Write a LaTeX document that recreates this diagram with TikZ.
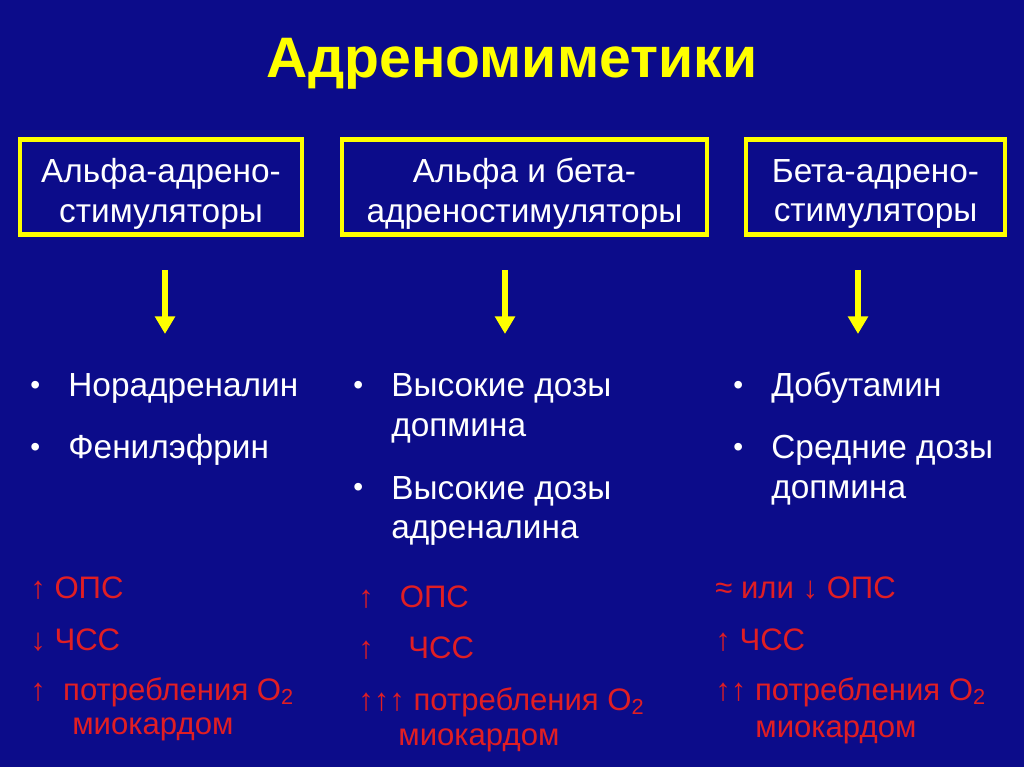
\documentclass[tikz,border=0pt]{standalone}
\usepackage{fontspec}
\setmainfont{Liberation Sans}
\usetikzlibrary{arrows.meta}
\definecolor{bgblue}{RGB}{12,12,138}
\definecolor{ttlyellow}{RGB}{255,255,0}
\definecolor{effred}{RGB}{225,30,35}
\tikzset{
  grpbox/.style={draw=ttlyellow,line width=2.5pt,minimum height=95*0.02cm,inner sep=0pt,
                 text=white,align=center,font=\fontsize{19}{22.7}\selectfont},
  item/.style={anchor=west,text=white,align=left,font=\fontsize{19}{22.7}\selectfont,inner sep=0pt},
  bul/.style={anchor=west,text=white,font=\fontsize{16}{18}\selectfont,inner sep=0pt},
  eff/.style={anchor=west,text=effred,font=\fontsize{17.7}{20}\selectfont,inner sep=0pt},
  down/.style={draw=ttlyellow,line width=3pt,-{Triangle[length=10pt,width=11pt]}}
}
\begin{document}
\begin{tikzpicture}[x=0.02cm,y=-0.02cm]
  \fill[bgblue] (0,0) rectangle (1024,767);
  \useasboundingbox (0,0) rectangle (1024,767);
  \node[text=ttlyellow,font=\fontsize{32.5}{38}\selectfont\bfseries] (title) at (512,64) {Адреномиметики};
  % boxes
  \node[grpbox,minimum width=282*0.02cm] (alpha) at (161,187) {};
  \node[grpbox,minimum width=365*0.02cm] (both) at (524.5,187) {};
  \node[grpbox,minimum width=259*0.02cm] (beta) at (875.5,187) {};
  \node[grpbox,draw=none] (alphat) at (161,194) {Альфа-адрено-\\стимуляторы};
  \node[grpbox,draw=none] (botht) at (524.5,194) {Альфа и бета-\\адреностимуляторы};
  \node[grpbox,draw=none] (betat) at (875.5,194) {Бета-адрено-\\стимуляторы};
  % arrows
  \coordinate (a1) at (165,270); \coordinate (a2) at (165,334);
  \coordinate (b1) at (505,270); \coordinate (b2) at (505,334);
  \coordinate (c1) at (858,270); \coordinate (c2) at (858,334);
  \draw[down] (a1) -- (a2);
  \draw[down] (b1) -- (b2);
  \draw[down] (c1) -- (c2);
  % drugs
  \node[bul] (l1b) at (30,388) {•};
  \node[item] (l1) at (68,388) {Норадреналин};
  \node[bul] (l2b) at (30,450) {•};
  \node[item] (l2) at (68,450) {Фенилэфрин};
  \node[bul] (m1b) at (353,388) {•};
  \node[item] (m1) at (391,408) {Высокие дозы\\допмина};
  \node[bul] (m2b) at (353,490) {•};
  \node[item] (m2) at (391,511) {Высокие дозы\\адреналина};
  \node[bul] (r1b) at (733,388) {•};
  \node[item] (r1) at (771,388) {Добутамин};
  \node[bul] (r2b) at (733,450) {•};
  \node[item] (r2) at (771,470) {Средние дозы\\допмина};
  % effects
  \node[eff] (le1) at (30,588) {↑ ОПС};
  \node[eff] (le2) at (30,640) {↓ ЧСС};
  \node[eff] (le3) at (30,692) {↑\ \ потребления O\textsubscript{2}};
  \node[eff] (le4) at (72,729) {миокардом};
  \node[eff] (me1) at (358,597) {↑\ \ \ ОПС};
  \node[eff] (me2) at (358,648) {↑\ \ \ \ ЧСС};
  \node[eff] (me3) at (358,702) {↑↑↑\ потребления O\textsubscript{2}};
  \node[eff] (me4) at (398,740) {миокардом};
  \node[eff] (re1) at (715,588) {≈ или ↓ ОПС};
  \node[eff] (re2) at (715,640) {↑ ЧСС};
  \node[eff] (re3) at (715,692) {↑↑\ потребления O\textsubscript{2}};
  \node[eff] (re4) at (755,732) {миокардом};
\end{tikzpicture}
\end{document}
